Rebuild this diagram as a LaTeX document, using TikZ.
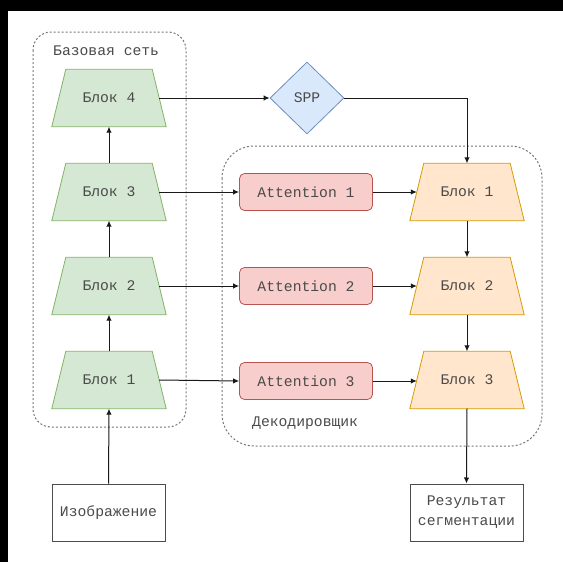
\documentclass[tikz,border=0pt]{standalone}
\usepackage{fontspec}
\setmonofont{Liberation Mono}
\usetikzlibrary{shapes.geometric,arrows.meta}
\pgfdeclarelayer{back}
\pgfdeclarelayer{bg}
\pgfsetlayers{back,bg,main}
\definecolor{txt}{HTML}{4A4A4A}
\definecolor{gfill}{HTML}{D5E8D4}\definecolor{gdraw}{HTML}{82B366}
\definecolor{bfill}{HTML}{DAE8FC}\definecolor{bdraw}{HTML}{6C8EBF}
\definecolor{rfill}{HTML}{F8CECC}\definecolor{rdraw}{HTML}{B85450}
\definecolor{ofill}{HTML}{FFE6CC}\definecolor{odraw}{HTML}{D79B00}
\definecolor{cont}{HTML}{777777}
\tikzset{
  lbl/.style={font=\ttfamily\fontsize{14.7}{20}\selectfont, text=txt},
  trap/.style={lbl, rectangle, minimum width=100pt, minimum height=57pt, inner sep=0pt},
  gshape/.style={fill=gfill, draw=gdraw, line width=0.8pt, line join=miter},
  oshape/.style={fill=ofill, draw=odraw, line width=0.8pt, line join=miter},
  attbox/.style={lbl, rectangle, rounded corners=5pt, fill=rfill, draw=rdraw, line width=0.8pt,
     minimum width=133pt, minimum height=37pt, inner sep=0pt},
  sppbox/.style={lbl, diamond, fill=bfill, draw=bdraw, line width=0.8pt, minimum width=74pt, minimum height=72pt, inner sep=0pt},
  iobox/.style={lbl, rectangle, draw=black!70, line width=1pt, fill=white, minimum width=113pt, minimum height=57pt, inner sep=0pt, align=center},
  container/.style={draw=cont, line width=1pt, dash pattern=on 2pt off 2pt},
  conn/.style={draw=black!90, line width=1pt, -{Latex[length=6pt,width=5.5pt]}},
}
\newcommand{\trapshape}[2]{%
  \path[#2] ([xshift=-7pt]#1.south west) -- ([xshift=7pt]#1.south east)
     -- ([xshift=-7pt]#1.north east) -- ([xshift=7pt]#1.north west) -- cycle;}
\begin{document}
\begin{tikzpicture}[x=1pt,y=-1pt]
\useasboundingbox (0,0) rectangle (563,562);
\begin{pgfonlayer}{back}
\fill[black] (0,0) rectangle (563,562);
\fill[white] (8,11) rectangle (563,562);
\end{pgfonlayer}
% containers
\draw[container, rounded corners=18pt] (33,32) rectangle (186,427);
\draw[container, rounded corners=32pt] (222,146) rectangle (542,446);
\node[lbl, anchor=west, inner sep=0pt] (baselbl) at (53,51) {Базовая сеть};
\node[lbl, anchor=west, inner sep=0pt] (declbl) at (252,423) {Декодировщик};
% backbone
\node[trap] (g4) at (109,98) {Блок 4};
\node[trap] (g3) at (109,192) {Блок 3};
\node[trap] (g2) at (109,286) {Блок 2};
\node[trap] (g1) at (109,380) {Блок 1};
% spp
\node[sppbox] (spp) at (307,98) {SPP};
% attention
\node[attbox] (a1) at (306,192) {Attention 1};
\node[attbox] (a2) at (306,286) {Attention 2};
\node[attbox] (a3) at (306,381) {Attention 3};
% decoder blocks
\node[trap] (o1) at (467,192) {Блок 1};
\node[trap] (o2) at (467,286) {Блок 2};
\node[trap] (o3) at (467,380) {Блок 3};
\begin{pgfonlayer}{bg}
  \trapshape{g4}{gshape}\trapshape{g3}{gshape}\trapshape{g2}{gshape}\trapshape{g1}{gshape}
  \trapshape{o1}{oshape}\trapshape{o2}{oshape}\trapshape{o3}{oshape}
\end{pgfonlayer}
% io
\node[iobox] (img) at (108.5,512.5) {Изображение};
\node[iobox] (res) at (466.5,512.5) {Результат\\сегментации};
% connectors
\draw[conn] (img.north) -- (g1.south);
\draw[conn] (g1.north) -- (g2.south);
\draw[conn] (g2.north) -- (g3.south);
\draw[conn] (g3.north) -- (g4.south);
\draw[conn] (g4.east) -- (spp.west);
\draw[conn] (spp.east) -| (o1.north);
\draw[conn] (g3.east) -- (a1.west);
\draw[conn] (g2.east) -- (a2.west);
\draw[conn] (g1.east) -- (a3.west);
\draw[conn] (a1.east) -- (o1.west);
\draw[conn] (a2.east) -- (o2.west);
\draw[conn] (a3.east) -- (o3.west |- a3.east);
\draw[conn] (o1.south) -- (o2.north);
\draw[conn] (o2.south) -- (o3.north);
\draw[conn] (o3.south) -- (res.north);
\end{tikzpicture}
\end{document}
